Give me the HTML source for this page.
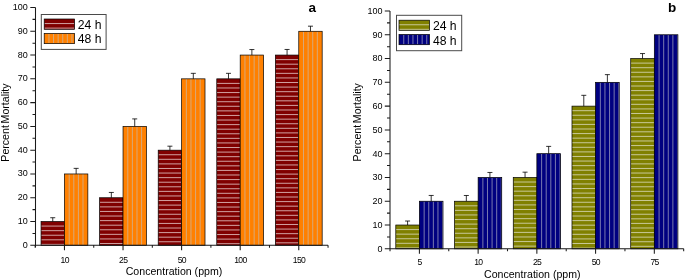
<!DOCTYPE html><html><head><meta charset="utf-8"><style>html,body{margin:0;padding:0;background:#fff;overflow:hidden}svg{display:block;will-change:transform}text{font-family:"Liberation Sans", sans-serif}</style></head><body>
<svg width="685" height="280" viewBox="0 0 685 280">
<rect width="685" height="280" fill="#fff"/>
<rect x="41.05" y="221.52" width="23.4" height="23.78" fill="#800000"/><rect x="41.05" y="225.57" width="23.4" height="1" fill="#d0a0a0"/><rect x="41.05" y="230.15" width="23.4" height="1" fill="#d0a0a0"/><rect x="41.05" y="234.73" width="23.4" height="1" fill="#d0a0a0"/><rect x="41.05" y="239.31" width="23.4" height="1" fill="#d0a0a0"/><rect x="41.05" y="243.89" width="23.4" height="1" fill="#d0a0a0"/><rect x="41.05" y="221.52" width="23.4" height="23.78" fill="none" stroke="#000" stroke-width="0.7"/>
<rect x="64.45" y="173.96" width="23.4" height="71.34" fill="#ff8000"/><rect x="68.7" y="173.96" width="1" height="71.34" fill="#d8a878"/><rect x="73.3" y="173.96" width="1" height="71.34" fill="#d8a878"/><rect x="77.9" y="173.96" width="1" height="71.34" fill="#d8a878"/><rect x="82.5" y="173.96" width="1" height="71.34" fill="#d8a878"/><rect x="64.45" y="173.96" width="23.4" height="71.34" fill="none" stroke="#000" stroke-width="0.7"/>
<path d="M52.75 221.52V217.72M50.25 217.72H55.25" stroke="#000" stroke-width="0.8" fill="none"/>
<path d="M76.15 173.96V168.36M73.65 168.36H78.65" stroke="#000" stroke-width="0.8" fill="none"/>
<rect x="99.63" y="197.74" width="23.4" height="47.56" fill="#800000"/><rect x="99.63" y="201.79" width="23.4" height="1" fill="#d0a0a0"/><rect x="99.63" y="206.37" width="23.4" height="1" fill="#d0a0a0"/><rect x="99.63" y="210.95" width="23.4" height="1" fill="#d0a0a0"/><rect x="99.63" y="215.53" width="23.4" height="1" fill="#d0a0a0"/><rect x="99.63" y="220.11" width="23.4" height="1" fill="#d0a0a0"/><rect x="99.63" y="224.69" width="23.4" height="1" fill="#d0a0a0"/><rect x="99.63" y="229.27" width="23.4" height="1" fill="#d0a0a0"/><rect x="99.63" y="233.85" width="23.4" height="1" fill="#d0a0a0"/><rect x="99.63" y="238.43" width="23.4" height="1" fill="#d0a0a0"/><rect x="99.63" y="243.01" width="23.4" height="1" fill="#d0a0a0"/><rect x="99.63" y="197.74" width="23.4" height="47.56" fill="none" stroke="#000" stroke-width="0.7"/>
<rect x="123.03" y="126.4" width="23.4" height="118.9" fill="#ff8000"/><rect x="127.28" y="126.4" width="1" height="118.9" fill="#d8a878"/><rect x="131.88" y="126.4" width="1" height="118.9" fill="#d8a878"/><rect x="136.48" y="126.4" width="1" height="118.9" fill="#d8a878"/><rect x="141.08" y="126.4" width="1" height="118.9" fill="#d8a878"/><rect x="123.03" y="126.4" width="23.4" height="118.9" fill="none" stroke="#000" stroke-width="0.7"/>
<path d="M111.33 197.74V192.44M108.83 192.44H113.83" stroke="#000" stroke-width="0.8" fill="none"/>
<path d="M134.73 126.4V118.9M132.23 118.9H137.23" stroke="#000" stroke-width="0.8" fill="none"/>
<rect x="158.21" y="150.18" width="23.4" height="95.12" fill="#800000"/><rect x="158.21" y="154.23" width="23.4" height="1" fill="#d0a0a0"/><rect x="158.21" y="158.81" width="23.4" height="1" fill="#d0a0a0"/><rect x="158.21" y="163.39" width="23.4" height="1" fill="#d0a0a0"/><rect x="158.21" y="167.97" width="23.4" height="1" fill="#d0a0a0"/><rect x="158.21" y="172.55" width="23.4" height="1" fill="#d0a0a0"/><rect x="158.21" y="177.13" width="23.4" height="1" fill="#d0a0a0"/><rect x="158.21" y="181.71" width="23.4" height="1" fill="#d0a0a0"/><rect x="158.21" y="186.29" width="23.4" height="1" fill="#d0a0a0"/><rect x="158.21" y="190.87" width="23.4" height="1" fill="#d0a0a0"/><rect x="158.21" y="195.45" width="23.4" height="1" fill="#d0a0a0"/><rect x="158.21" y="200.03" width="23.4" height="1" fill="#d0a0a0"/><rect x="158.21" y="204.61" width="23.4" height="1" fill="#d0a0a0"/><rect x="158.21" y="209.19" width="23.4" height="1" fill="#d0a0a0"/><rect x="158.21" y="213.77" width="23.4" height="1" fill="#d0a0a0"/><rect x="158.21" y="218.35" width="23.4" height="1" fill="#d0a0a0"/><rect x="158.21" y="222.93" width="23.4" height="1" fill="#d0a0a0"/><rect x="158.21" y="227.51" width="23.4" height="1" fill="#d0a0a0"/><rect x="158.21" y="232.09" width="23.4" height="1" fill="#d0a0a0"/><rect x="158.21" y="236.67" width="23.4" height="1" fill="#d0a0a0"/><rect x="158.21" y="241.25" width="23.4" height="1" fill="#d0a0a0"/><rect x="158.21" y="150.18" width="23.4" height="95.12" fill="none" stroke="#000" stroke-width="0.7"/>
<rect x="181.61" y="78.84" width="23.4" height="166.46" fill="#ff8000"/><rect x="185.86" y="78.84" width="1" height="166.46" fill="#d8a878"/><rect x="190.46" y="78.84" width="1" height="166.46" fill="#d8a878"/><rect x="195.06" y="78.84" width="1" height="166.46" fill="#d8a878"/><rect x="199.66" y="78.84" width="1" height="166.46" fill="#d8a878"/><rect x="181.61" y="78.84" width="23.4" height="166.46" fill="none" stroke="#000" stroke-width="0.7"/>
<path d="M169.91 150.18V146.18M167.41 146.18H172.41" stroke="#000" stroke-width="0.8" fill="none"/>
<path d="M193.31 78.84V73.34M190.81 73.34H195.81" stroke="#000" stroke-width="0.8" fill="none"/>
<rect x="216.79" y="78.84" width="23.4" height="166.46" fill="#800000"/><rect x="216.79" y="82.89" width="23.4" height="1" fill="#d0a0a0"/><rect x="216.79" y="87.47" width="23.4" height="1" fill="#d0a0a0"/><rect x="216.79" y="92.05" width="23.4" height="1" fill="#d0a0a0"/><rect x="216.79" y="96.63" width="23.4" height="1" fill="#d0a0a0"/><rect x="216.79" y="101.21" width="23.4" height="1" fill="#d0a0a0"/><rect x="216.79" y="105.79" width="23.4" height="1" fill="#d0a0a0"/><rect x="216.79" y="110.37" width="23.4" height="1" fill="#d0a0a0"/><rect x="216.79" y="114.95" width="23.4" height="1" fill="#d0a0a0"/><rect x="216.79" y="119.53" width="23.4" height="1" fill="#d0a0a0"/><rect x="216.79" y="124.11" width="23.4" height="1" fill="#d0a0a0"/><rect x="216.79" y="128.69" width="23.4" height="1" fill="#d0a0a0"/><rect x="216.79" y="133.27" width="23.4" height="1" fill="#d0a0a0"/><rect x="216.79" y="137.85" width="23.4" height="1" fill="#d0a0a0"/><rect x="216.79" y="142.43" width="23.4" height="1" fill="#d0a0a0"/><rect x="216.79" y="147.01" width="23.4" height="1" fill="#d0a0a0"/><rect x="216.79" y="151.59" width="23.4" height="1" fill="#d0a0a0"/><rect x="216.79" y="156.17" width="23.4" height="1" fill="#d0a0a0"/><rect x="216.79" y="160.75" width="23.4" height="1" fill="#d0a0a0"/><rect x="216.79" y="165.33" width="23.4" height="1" fill="#d0a0a0"/><rect x="216.79" y="169.91" width="23.4" height="1" fill="#d0a0a0"/><rect x="216.79" y="174.49" width="23.4" height="1" fill="#d0a0a0"/><rect x="216.79" y="179.07" width="23.4" height="1" fill="#d0a0a0"/><rect x="216.79" y="183.65" width="23.4" height="1" fill="#d0a0a0"/><rect x="216.79" y="188.23" width="23.4" height="1" fill="#d0a0a0"/><rect x="216.79" y="192.81" width="23.4" height="1" fill="#d0a0a0"/><rect x="216.79" y="197.39" width="23.4" height="1" fill="#d0a0a0"/><rect x="216.79" y="201.97" width="23.4" height="1" fill="#d0a0a0"/><rect x="216.79" y="206.55" width="23.4" height="1" fill="#d0a0a0"/><rect x="216.79" y="211.13" width="23.4" height="1" fill="#d0a0a0"/><rect x="216.79" y="215.71" width="23.4" height="1" fill="#d0a0a0"/><rect x="216.79" y="220.29" width="23.4" height="1" fill="#d0a0a0"/><rect x="216.79" y="224.87" width="23.4" height="1" fill="#d0a0a0"/><rect x="216.79" y="229.45" width="23.4" height="1" fill="#d0a0a0"/><rect x="216.79" y="234.03" width="23.4" height="1" fill="#d0a0a0"/><rect x="216.79" y="238.61" width="23.4" height="1" fill="#d0a0a0"/><rect x="216.79" y="243.19" width="23.4" height="1" fill="#d0a0a0"/><rect x="216.79" y="78.84" width="23.4" height="166.46" fill="none" stroke="#000" stroke-width="0.7"/>
<rect x="240.19" y="55.06" width="23.4" height="190.24" fill="#ff8000"/><rect x="244.44" y="55.06" width="1" height="190.24" fill="#d8a878"/><rect x="249.04" y="55.06" width="1" height="190.24" fill="#d8a878"/><rect x="253.64" y="55.06" width="1" height="190.24" fill="#d8a878"/><rect x="258.24" y="55.06" width="1" height="190.24" fill="#d8a878"/><rect x="240.19" y="55.06" width="23.4" height="190.24" fill="none" stroke="#000" stroke-width="0.7"/>
<path d="M228.49 78.84V73.34M225.99 73.34H230.99" stroke="#000" stroke-width="0.8" fill="none"/>
<path d="M251.89 55.06V49.56M249.39 49.56H254.39" stroke="#000" stroke-width="0.8" fill="none"/>
<rect x="275.37" y="55.06" width="23.4" height="190.24" fill="#800000"/><rect x="275.37" y="59.11" width="23.4" height="1" fill="#d0a0a0"/><rect x="275.37" y="63.69" width="23.4" height="1" fill="#d0a0a0"/><rect x="275.37" y="68.27" width="23.4" height="1" fill="#d0a0a0"/><rect x="275.37" y="72.85" width="23.4" height="1" fill="#d0a0a0"/><rect x="275.37" y="77.43" width="23.4" height="1" fill="#d0a0a0"/><rect x="275.37" y="82.01" width="23.4" height="1" fill="#d0a0a0"/><rect x="275.37" y="86.59" width="23.4" height="1" fill="#d0a0a0"/><rect x="275.37" y="91.17" width="23.4" height="1" fill="#d0a0a0"/><rect x="275.37" y="95.75" width="23.4" height="1" fill="#d0a0a0"/><rect x="275.37" y="100.33" width="23.4" height="1" fill="#d0a0a0"/><rect x="275.37" y="104.91" width="23.4" height="1" fill="#d0a0a0"/><rect x="275.37" y="109.49" width="23.4" height="1" fill="#d0a0a0"/><rect x="275.37" y="114.07" width="23.4" height="1" fill="#d0a0a0"/><rect x="275.37" y="118.65" width="23.4" height="1" fill="#d0a0a0"/><rect x="275.37" y="123.23" width="23.4" height="1" fill="#d0a0a0"/><rect x="275.37" y="127.81" width="23.4" height="1" fill="#d0a0a0"/><rect x="275.37" y="132.39" width="23.4" height="1" fill="#d0a0a0"/><rect x="275.37" y="136.97" width="23.4" height="1" fill="#d0a0a0"/><rect x="275.37" y="141.55" width="23.4" height="1" fill="#d0a0a0"/><rect x="275.37" y="146.13" width="23.4" height="1" fill="#d0a0a0"/><rect x="275.37" y="150.71" width="23.4" height="1" fill="#d0a0a0"/><rect x="275.37" y="155.29" width="23.4" height="1" fill="#d0a0a0"/><rect x="275.37" y="159.87" width="23.4" height="1" fill="#d0a0a0"/><rect x="275.37" y="164.45" width="23.4" height="1" fill="#d0a0a0"/><rect x="275.37" y="169.03" width="23.4" height="1" fill="#d0a0a0"/><rect x="275.37" y="173.61" width="23.4" height="1" fill="#d0a0a0"/><rect x="275.37" y="178.19" width="23.4" height="1" fill="#d0a0a0"/><rect x="275.37" y="182.77" width="23.4" height="1" fill="#d0a0a0"/><rect x="275.37" y="187.35" width="23.4" height="1" fill="#d0a0a0"/><rect x="275.37" y="191.93" width="23.4" height="1" fill="#d0a0a0"/><rect x="275.37" y="196.51" width="23.4" height="1" fill="#d0a0a0"/><rect x="275.37" y="201.09" width="23.4" height="1" fill="#d0a0a0"/><rect x="275.37" y="205.67" width="23.4" height="1" fill="#d0a0a0"/><rect x="275.37" y="210.25" width="23.4" height="1" fill="#d0a0a0"/><rect x="275.37" y="214.83" width="23.4" height="1" fill="#d0a0a0"/><rect x="275.37" y="219.41" width="23.4" height="1" fill="#d0a0a0"/><rect x="275.37" y="223.99" width="23.4" height="1" fill="#d0a0a0"/><rect x="275.37" y="228.57" width="23.4" height="1" fill="#d0a0a0"/><rect x="275.37" y="233.15" width="23.4" height="1" fill="#d0a0a0"/><rect x="275.37" y="237.73" width="23.4" height="1" fill="#d0a0a0"/><rect x="275.37" y="242.31" width="23.4" height="1" fill="#d0a0a0"/><rect x="275.37" y="55.06" width="23.4" height="190.24" fill="none" stroke="#000" stroke-width="0.7"/>
<rect x="298.77" y="31.28" width="23.4" height="214.02" fill="#ff8000"/><rect x="303.02" y="31.28" width="1" height="214.02" fill="#d8a878"/><rect x="307.62" y="31.28" width="1" height="214.02" fill="#d8a878"/><rect x="312.22" y="31.28" width="1" height="214.02" fill="#d8a878"/><rect x="316.82" y="31.28" width="1" height="214.02" fill="#d8a878"/><rect x="298.77" y="31.28" width="23.4" height="214.02" fill="none" stroke="#000" stroke-width="0.7"/>
<path d="M287.07 55.06V49.46M284.57 49.46H289.57" stroke="#000" stroke-width="0.8" fill="none"/>
<path d="M310.47 31.28V26.18M307.97 26.18H312.97" stroke="#000" stroke-width="0.8" fill="none"/>
<path d="M35.5 7.5V247.5M35.5 245.3H328.1M30.3 245.3H35.5M32.5 233.41H35.5M30.3 221.52H35.5M32.5 209.63H35.5M30.3 197.74H35.5M32.5 185.85H35.5M30.3 173.96H35.5M32.5 162.07H35.5M30.3 150.18H35.5M32.5 138.29H35.5M30.3 126.4H35.5M32.5 114.51H35.5M30.3 102.62H35.5M32.5 90.73H35.5M30.3 78.84H35.5M32.5 66.95H35.5M30.3 55.06H35.5M32.5 43.17H35.5M30.3 31.28H35.5M32.5 19.39H35.5M30.3 7.5H35.5M64.45 245.3V250.3M123.03 245.3V250.3M181.61 245.3V250.3M240.19 245.3V250.3M298.77 245.3V250.3M35.16 245.3V247.7M93.74 245.3V247.7M152.32 245.3V247.7M210.9 245.3V247.7M269.48 245.3V247.7M328.06 245.3V247.7" stroke="#1a1a1a" stroke-width="1.05" fill="none"/>
<text x="27.7" y="247.8" font-size="9" text-anchor="end" fill="#000">0</text>
<text x="27.7" y="224.02" font-size="9" text-anchor="end" fill="#000">10</text>
<text x="27.7" y="200.24" font-size="9" text-anchor="end" fill="#000">20</text>
<text x="27.7" y="176.46" font-size="9" text-anchor="end" fill="#000">30</text>
<text x="27.7" y="152.68" font-size="9" text-anchor="end" fill="#000">40</text>
<text x="27.7" y="128.9" font-size="9" text-anchor="end" fill="#000">50</text>
<text x="27.7" y="105.12" font-size="9" text-anchor="end" fill="#000">60</text>
<text x="27.7" y="81.34" font-size="9" text-anchor="end" fill="#000">70</text>
<text x="27.7" y="57.56" font-size="9" text-anchor="end" fill="#000">80</text>
<text x="27.7" y="33.78" font-size="9" text-anchor="end" fill="#000">90</text>
<text x="27.7" y="10" font-size="9" text-anchor="end" fill="#000">100</text>
<text x="64.7" y="262.7" font-size="8.6" letter-spacing="-0.6" text-anchor="middle" fill="#000">10</text>
<text x="123.28" y="262.7" font-size="8.6" letter-spacing="-0.6" text-anchor="middle" fill="#000">25</text>
<text x="181.86" y="262.7" font-size="8.6" letter-spacing="-0.6" text-anchor="middle" fill="#000">50</text>
<text x="240.44" y="262.7" font-size="8.6" letter-spacing="-0.6" text-anchor="middle" fill="#000">100</text>
<text x="299.02" y="262.7" font-size="8.6" letter-spacing="-0.6" text-anchor="middle" fill="#000">150</text>
<text x="174" y="275.3" font-size="10.6" text-anchor="middle" fill="#000">Concentration (ppm)</text>
<text transform="translate(9 122.55) rotate(-90)" font-size="10.6" word-spacing="-1.2" text-anchor="middle" fill="#000">Percent Mortality</text>
<rect x="41.3" y="14.5" width="64.8" height="34.9" fill="#fff" stroke="#4a4a4a" stroke-width="1"/>
<rect x="44.2" y="19" width="30.4" height="10.3" fill="#800000"/><rect x="44.2" y="23.05" width="30.4" height="1" fill="#d0a0a0"/><rect x="44.2" y="27.63" width="30.4" height="1" fill="#d0a0a0"/><rect x="44.2" y="19" width="30.4" height="10.3" fill="none" stroke="#000" stroke-width="0.7"/>
<rect x="44.2" y="33.45" width="30.4" height="10.2" fill="#ff8000"/><rect x="48.45" y="33.45" width="1" height="10.2" fill="#d8a878"/><rect x="53.05" y="33.45" width="1" height="10.2" fill="#d8a878"/><rect x="57.65" y="33.45" width="1" height="10.2" fill="#d8a878"/><rect x="62.25" y="33.45" width="1" height="10.2" fill="#d8a878"/><rect x="66.85" y="33.45" width="1" height="10.2" fill="#d8a878"/><rect x="71.45" y="33.45" width="1" height="10.2" fill="#d8a878"/><rect x="44.2" y="33.45" width="30.4" height="10.2" fill="none" stroke="#000" stroke-width="0.7"/>
<text x="77.7" y="29" font-size="12.2" fill="#000">24 h</text>
<text x="77.7" y="43.2" font-size="12.2" fill="#000">48 h</text>
<text x="312.2" y="11.8" font-size="13.5" font-weight="bold" text-anchor="middle" fill="#000">a</text>
<rect x="395.8" y="225.02" width="23.6" height="23.78" fill="#808000"/><rect x="395.8" y="229.07" width="23.6" height="1" fill="#c8c896"/><rect x="395.8" y="233.65" width="23.6" height="1" fill="#c8c896"/><rect x="395.8" y="238.23" width="23.6" height="1" fill="#c8c896"/><rect x="395.8" y="242.81" width="23.6" height="1" fill="#c8c896"/><rect x="395.8" y="247.39" width="23.6" height="1" fill="#c8c896"/><rect x="395.8" y="225.02" width="23.6" height="23.78" fill="none" stroke="#000" stroke-width="0.7"/>
<rect x="419.4" y="201.24" width="23.6" height="47.56" fill="#000080"/><rect x="423.65" y="201.24" width="1" height="47.56" fill="#7878af"/><rect x="428.25" y="201.24" width="1" height="47.56" fill="#7878af"/><rect x="432.85" y="201.24" width="1" height="47.56" fill="#7878af"/><rect x="437.45" y="201.24" width="1" height="47.56" fill="#7878af"/><rect x="442.05" y="201.24" width="1" height="47.56" fill="#7878af"/><rect x="419.4" y="201.24" width="23.6" height="47.56" fill="none" stroke="#000" stroke-width="0.7"/>
<path d="M407.6 225.02V221.02M405.1 221.02H410.1" stroke="#000" stroke-width="0.8" fill="none"/>
<path d="M431.2 201.24V195.44M428.7 195.44H433.7" stroke="#000" stroke-width="0.8" fill="none"/>
<rect x="454.53" y="201.24" width="23.6" height="47.56" fill="#808000"/><rect x="454.53" y="205.29" width="23.6" height="1" fill="#c8c896"/><rect x="454.53" y="209.87" width="23.6" height="1" fill="#c8c896"/><rect x="454.53" y="214.45" width="23.6" height="1" fill="#c8c896"/><rect x="454.53" y="219.03" width="23.6" height="1" fill="#c8c896"/><rect x="454.53" y="223.61" width="23.6" height="1" fill="#c8c896"/><rect x="454.53" y="228.19" width="23.6" height="1" fill="#c8c896"/><rect x="454.53" y="232.77" width="23.6" height="1" fill="#c8c896"/><rect x="454.53" y="237.35" width="23.6" height="1" fill="#c8c896"/><rect x="454.53" y="241.93" width="23.6" height="1" fill="#c8c896"/><rect x="454.53" y="246.51" width="23.6" height="1" fill="#c8c896"/><rect x="454.53" y="201.24" width="23.6" height="47.56" fill="none" stroke="#000" stroke-width="0.7"/>
<rect x="478.13" y="177.46" width="23.6" height="71.34" fill="#000080"/><rect x="482.38" y="177.46" width="1" height="71.34" fill="#7878af"/><rect x="486.98" y="177.46" width="1" height="71.34" fill="#7878af"/><rect x="491.58" y="177.46" width="1" height="71.34" fill="#7878af"/><rect x="496.18" y="177.46" width="1" height="71.34" fill="#7878af"/><rect x="500.78" y="177.46" width="1" height="71.34" fill="#7878af"/><rect x="478.13" y="177.46" width="23.6" height="71.34" fill="none" stroke="#000" stroke-width="0.7"/>
<path d="M466.33 201.24V195.49M463.83 195.49H468.83" stroke="#000" stroke-width="0.8" fill="none"/>
<path d="M489.93 177.46V172.46M487.43 172.46H492.43" stroke="#000" stroke-width="0.8" fill="none"/>
<rect x="513.26" y="177.46" width="23.6" height="71.34" fill="#808000"/><rect x="513.26" y="181.51" width="23.6" height="1" fill="#c8c896"/><rect x="513.26" y="186.09" width="23.6" height="1" fill="#c8c896"/><rect x="513.26" y="190.67" width="23.6" height="1" fill="#c8c896"/><rect x="513.26" y="195.25" width="23.6" height="1" fill="#c8c896"/><rect x="513.26" y="199.83" width="23.6" height="1" fill="#c8c896"/><rect x="513.26" y="204.41" width="23.6" height="1" fill="#c8c896"/><rect x="513.26" y="208.99" width="23.6" height="1" fill="#c8c896"/><rect x="513.26" y="213.57" width="23.6" height="1" fill="#c8c896"/><rect x="513.26" y="218.15" width="23.6" height="1" fill="#c8c896"/><rect x="513.26" y="222.73" width="23.6" height="1" fill="#c8c896"/><rect x="513.26" y="227.31" width="23.6" height="1" fill="#c8c896"/><rect x="513.26" y="231.89" width="23.6" height="1" fill="#c8c896"/><rect x="513.26" y="236.47" width="23.6" height="1" fill="#c8c896"/><rect x="513.26" y="241.05" width="23.6" height="1" fill="#c8c896"/><rect x="513.26" y="245.63" width="23.6" height="1" fill="#c8c896"/><rect x="513.26" y="177.46" width="23.6" height="71.34" fill="none" stroke="#000" stroke-width="0.7"/>
<rect x="536.86" y="153.68" width="23.6" height="95.12" fill="#000080"/><rect x="541.11" y="153.68" width="1" height="95.12" fill="#7878af"/><rect x="545.71" y="153.68" width="1" height="95.12" fill="#7878af"/><rect x="550.31" y="153.68" width="1" height="95.12" fill="#7878af"/><rect x="554.91" y="153.68" width="1" height="95.12" fill="#7878af"/><rect x="559.51" y="153.68" width="1" height="95.12" fill="#7878af"/><rect x="536.86" y="153.68" width="23.6" height="95.12" fill="none" stroke="#000" stroke-width="0.7"/>
<path d="M525.06 177.46V172.16M522.56 172.16H527.56" stroke="#000" stroke-width="0.8" fill="none"/>
<path d="M548.66 153.68V146.38M546.16 146.38H551.16" stroke="#000" stroke-width="0.8" fill="none"/>
<rect x="571.99" y="106.12" width="23.6" height="142.68" fill="#808000"/><rect x="571.99" y="110.17" width="23.6" height="1" fill="#c8c896"/><rect x="571.99" y="114.75" width="23.6" height="1" fill="#c8c896"/><rect x="571.99" y="119.33" width="23.6" height="1" fill="#c8c896"/><rect x="571.99" y="123.91" width="23.6" height="1" fill="#c8c896"/><rect x="571.99" y="128.49" width="23.6" height="1" fill="#c8c896"/><rect x="571.99" y="133.07" width="23.6" height="1" fill="#c8c896"/><rect x="571.99" y="137.65" width="23.6" height="1" fill="#c8c896"/><rect x="571.99" y="142.23" width="23.6" height="1" fill="#c8c896"/><rect x="571.99" y="146.81" width="23.6" height="1" fill="#c8c896"/><rect x="571.99" y="151.39" width="23.6" height="1" fill="#c8c896"/><rect x="571.99" y="155.97" width="23.6" height="1" fill="#c8c896"/><rect x="571.99" y="160.55" width="23.6" height="1" fill="#c8c896"/><rect x="571.99" y="165.13" width="23.6" height="1" fill="#c8c896"/><rect x="571.99" y="169.71" width="23.6" height="1" fill="#c8c896"/><rect x="571.99" y="174.29" width="23.6" height="1" fill="#c8c896"/><rect x="571.99" y="178.87" width="23.6" height="1" fill="#c8c896"/><rect x="571.99" y="183.45" width="23.6" height="1" fill="#c8c896"/><rect x="571.99" y="188.03" width="23.6" height="1" fill="#c8c896"/><rect x="571.99" y="192.61" width="23.6" height="1" fill="#c8c896"/><rect x="571.99" y="197.19" width="23.6" height="1" fill="#c8c896"/><rect x="571.99" y="201.77" width="23.6" height="1" fill="#c8c896"/><rect x="571.99" y="206.35" width="23.6" height="1" fill="#c8c896"/><rect x="571.99" y="210.93" width="23.6" height="1" fill="#c8c896"/><rect x="571.99" y="215.51" width="23.6" height="1" fill="#c8c896"/><rect x="571.99" y="220.09" width="23.6" height="1" fill="#c8c896"/><rect x="571.99" y="224.67" width="23.6" height="1" fill="#c8c896"/><rect x="571.99" y="229.25" width="23.6" height="1" fill="#c8c896"/><rect x="571.99" y="233.83" width="23.6" height="1" fill="#c8c896"/><rect x="571.99" y="238.41" width="23.6" height="1" fill="#c8c896"/><rect x="571.99" y="242.99" width="23.6" height="1" fill="#c8c896"/><rect x="571.99" y="247.57" width="23.6" height="1" fill="#c8c896"/><rect x="571.99" y="106.12" width="23.6" height="142.68" fill="none" stroke="#000" stroke-width="0.7"/>
<rect x="595.59" y="82.34" width="23.6" height="166.46" fill="#000080"/><rect x="599.84" y="82.34" width="1" height="166.46" fill="#7878af"/><rect x="604.44" y="82.34" width="1" height="166.46" fill="#7878af"/><rect x="609.04" y="82.34" width="1" height="166.46" fill="#7878af"/><rect x="613.64" y="82.34" width="1" height="166.46" fill="#7878af"/><rect x="618.24" y="82.34" width="1" height="166.46" fill="#7878af"/><rect x="595.59" y="82.34" width="23.6" height="166.46" fill="none" stroke="#000" stroke-width="0.7"/>
<path d="M583.79 106.12V95.32M581.29 95.32H586.29" stroke="#000" stroke-width="0.8" fill="none"/>
<path d="M607.39 82.34V74.64M604.89 74.64H609.89" stroke="#000" stroke-width="0.8" fill="none"/>
<rect x="630.72" y="58.56" width="23.6" height="190.24" fill="#808000"/><rect x="630.72" y="62.61" width="23.6" height="1" fill="#c8c896"/><rect x="630.72" y="67.19" width="23.6" height="1" fill="#c8c896"/><rect x="630.72" y="71.77" width="23.6" height="1" fill="#c8c896"/><rect x="630.72" y="76.35" width="23.6" height="1" fill="#c8c896"/><rect x="630.72" y="80.93" width="23.6" height="1" fill="#c8c896"/><rect x="630.72" y="85.51" width="23.6" height="1" fill="#c8c896"/><rect x="630.72" y="90.09" width="23.6" height="1" fill="#c8c896"/><rect x="630.72" y="94.67" width="23.6" height="1" fill="#c8c896"/><rect x="630.72" y="99.25" width="23.6" height="1" fill="#c8c896"/><rect x="630.72" y="103.83" width="23.6" height="1" fill="#c8c896"/><rect x="630.72" y="108.41" width="23.6" height="1" fill="#c8c896"/><rect x="630.72" y="112.99" width="23.6" height="1" fill="#c8c896"/><rect x="630.72" y="117.57" width="23.6" height="1" fill="#c8c896"/><rect x="630.72" y="122.15" width="23.6" height="1" fill="#c8c896"/><rect x="630.72" y="126.73" width="23.6" height="1" fill="#c8c896"/><rect x="630.72" y="131.31" width="23.6" height="1" fill="#c8c896"/><rect x="630.72" y="135.89" width="23.6" height="1" fill="#c8c896"/><rect x="630.72" y="140.47" width="23.6" height="1" fill="#c8c896"/><rect x="630.72" y="145.05" width="23.6" height="1" fill="#c8c896"/><rect x="630.72" y="149.63" width="23.6" height="1" fill="#c8c896"/><rect x="630.72" y="154.21" width="23.6" height="1" fill="#c8c896"/><rect x="630.72" y="158.79" width="23.6" height="1" fill="#c8c896"/><rect x="630.72" y="163.37" width="23.6" height="1" fill="#c8c896"/><rect x="630.72" y="167.95" width="23.6" height="1" fill="#c8c896"/><rect x="630.72" y="172.53" width="23.6" height="1" fill="#c8c896"/><rect x="630.72" y="177.11" width="23.6" height="1" fill="#c8c896"/><rect x="630.72" y="181.69" width="23.6" height="1" fill="#c8c896"/><rect x="630.72" y="186.27" width="23.6" height="1" fill="#c8c896"/><rect x="630.72" y="190.85" width="23.6" height="1" fill="#c8c896"/><rect x="630.72" y="195.43" width="23.6" height="1" fill="#c8c896"/><rect x="630.72" y="200.01" width="23.6" height="1" fill="#c8c896"/><rect x="630.72" y="204.59" width="23.6" height="1" fill="#c8c896"/><rect x="630.72" y="209.17" width="23.6" height="1" fill="#c8c896"/><rect x="630.72" y="213.75" width="23.6" height="1" fill="#c8c896"/><rect x="630.72" y="218.33" width="23.6" height="1" fill="#c8c896"/><rect x="630.72" y="222.91" width="23.6" height="1" fill="#c8c896"/><rect x="630.72" y="227.49" width="23.6" height="1" fill="#c8c896"/><rect x="630.72" y="232.07" width="23.6" height="1" fill="#c8c896"/><rect x="630.72" y="236.65" width="23.6" height="1" fill="#c8c896"/><rect x="630.72" y="241.23" width="23.6" height="1" fill="#c8c896"/><rect x="630.72" y="245.81" width="23.6" height="1" fill="#c8c896"/><rect x="630.72" y="58.56" width="23.6" height="190.24" fill="none" stroke="#000" stroke-width="0.7"/>
<rect x="654.32" y="34.78" width="23.6" height="214.02" fill="#000080"/><rect x="658.57" y="34.78" width="1" height="214.02" fill="#7878af"/><rect x="663.17" y="34.78" width="1" height="214.02" fill="#7878af"/><rect x="667.77" y="34.78" width="1" height="214.02" fill="#7878af"/><rect x="672.37" y="34.78" width="1" height="214.02" fill="#7878af"/><rect x="676.97" y="34.78" width="1" height="214.02" fill="#7878af"/><rect x="654.32" y="34.78" width="23.6" height="214.02" fill="none" stroke="#000" stroke-width="0.7"/>
<path d="M642.52 58.56V53.56M640.02 53.56H645.02" stroke="#000" stroke-width="0.8" fill="none"/>
<path d="M390 11V251M390 248.8H683.8M384.8 248.8H390M387 236.91H390M384.8 225.02H390M387 213.13H390M384.8 201.24H390M387 189.35H390M384.8 177.46H390M387 165.57H390M384.8 153.68H390M387 141.79H390M384.8 129.9H390M387 118.01H390M384.8 106.12H390M387 94.23H390M384.8 82.34H390M387 70.45H390M384.8 58.56H390M387 46.67H390M384.8 34.78H390M387 22.89H390M384.8 11H390M419.4 248.8V253.8M478.13 248.8V253.8M536.86 248.8V253.8M595.59 248.8V253.8M654.32 248.8V253.8M390.03 248.8V251.2M448.76 248.8V251.2M507.5 248.8V251.2M566.22 248.8V251.2M624.95 248.8V251.2M683.68 248.8V251.2" stroke="#1a1a1a" stroke-width="1.05" fill="none"/>
<text x="382.6" y="251.7" font-size="9" text-anchor="end" fill="#000">0</text>
<text x="382.6" y="227.92" font-size="9" text-anchor="end" fill="#000">10</text>
<text x="382.6" y="204.14" font-size="9" text-anchor="end" fill="#000">20</text>
<text x="382.6" y="180.36" font-size="9" text-anchor="end" fill="#000">30</text>
<text x="382.6" y="156.58" font-size="9" text-anchor="end" fill="#000">40</text>
<text x="382.6" y="132.8" font-size="9" text-anchor="end" fill="#000">50</text>
<text x="382.6" y="109.02" font-size="9" text-anchor="end" fill="#000">60</text>
<text x="382.6" y="85.24" font-size="9" text-anchor="end" fill="#000">70</text>
<text x="382.6" y="61.46" font-size="9" text-anchor="end" fill="#000">80</text>
<text x="382.6" y="37.68" font-size="9" text-anchor="end" fill="#000">90</text>
<text x="382.6" y="13.9" font-size="9" text-anchor="end" fill="#000">100</text>
<text x="419.65" y="265" font-size="8.6" letter-spacing="-0.6" text-anchor="middle" fill="#000">5</text>
<text x="478.38" y="265" font-size="8.6" letter-spacing="-0.6" text-anchor="middle" fill="#000">10</text>
<text x="537.11" y="265" font-size="8.6" letter-spacing="-0.6" text-anchor="middle" fill="#000">25</text>
<text x="595.84" y="265" font-size="8.6" letter-spacing="-0.6" text-anchor="middle" fill="#000">50</text>
<text x="654.57" y="265" font-size="8.6" letter-spacing="-0.6" text-anchor="middle" fill="#000">75</text>
<text x="532.3" y="277.7" font-size="10.6" text-anchor="middle" fill="#000">Concentration (ppm)</text>
<text transform="translate(360.9 122.25) rotate(-90)" font-size="10.6" word-spacing="-1.2" text-anchor="middle" fill="#000">Percent Mortality</text>
<rect x="396.5" y="15.3" width="65.2" height="35.4" fill="#fff" stroke="#4a4a4a" stroke-width="1"/>
<rect x="399" y="20.2" width="30.5" height="10.1" fill="#808000"/><rect x="399" y="24.25" width="30.5" height="1" fill="#c8c896"/><rect x="399" y="28.83" width="30.5" height="1" fill="#c8c896"/><rect x="399" y="20.2" width="30.5" height="10.1" fill="none" stroke="#000" stroke-width="0.7"/>
<rect x="399" y="34.5" width="30.5" height="10.2" fill="#000080"/><rect x="403.25" y="34.5" width="1" height="10.2" fill="#7878af"/><rect x="407.85" y="34.5" width="1" height="10.2" fill="#7878af"/><rect x="412.45" y="34.5" width="1" height="10.2" fill="#7878af"/><rect x="417.05" y="34.5" width="1" height="10.2" fill="#7878af"/><rect x="421.65" y="34.5" width="1" height="10.2" fill="#7878af"/><rect x="426.25" y="34.5" width="1" height="10.2" fill="#7878af"/><rect x="399" y="34.5" width="30.5" height="10.2" fill="none" stroke="#000" stroke-width="0.7"/>
<text x="432.9" y="30.2" font-size="12.2" fill="#000">24 h</text>
<text x="432.9" y="44.6" font-size="12.2" fill="#000">48 h</text>
<text x="672.1" y="11.8" font-size="13.5" font-weight="bold" text-anchor="middle" fill="#000">b</text>
</svg></body></html>
